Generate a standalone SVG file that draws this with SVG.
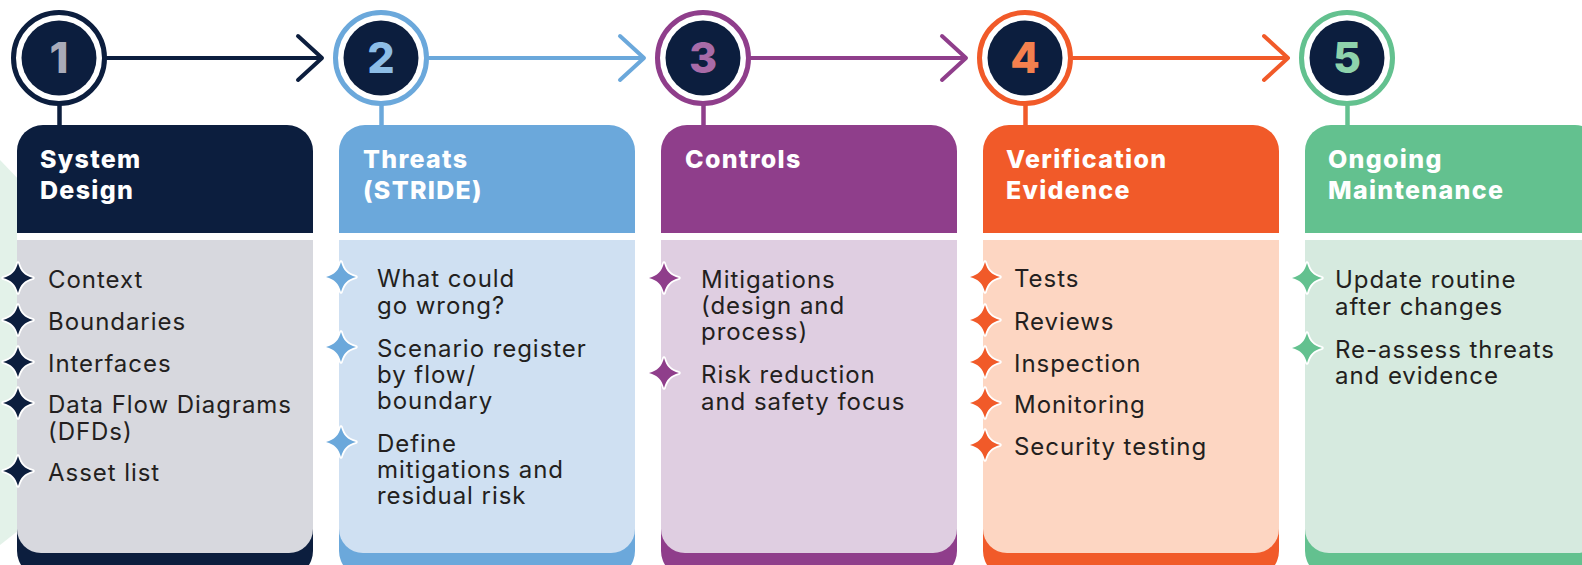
<svg xmlns="http://www.w3.org/2000/svg" width="1582" height="565" viewBox="0 0 1582 565">
  <defs>
    <style>
      .hd { font-family: Inter, "Liberation Sans", sans-serif; font-weight: 800; font-size: 25px; letter-spacing: 1.3px; fill: #ffffff; }
      .it { font-family: Inter, "Liberation Sans", sans-serif; font-weight: 400; font-size: 24px; letter-spacing: 0.95px; fill: #231f20; }
      .num { font-family: Inter, "Liberation Sans", sans-serif; font-weight: 800; font-size: 43px; text-anchor: middle; }
      .gap { fill: #ffffff; }
      .ring { fill: #ffffff; stroke-width: 5; }
      .core { fill: #0c1e3e; }
      .tick { stroke-width: 4.5; }
      .star { stroke: #ffffff; stroke-width: 3.5; paint-order: stroke; stroke-linejoin: round; }
      .arrow { fill: none; stroke-width: 4; stroke-linecap: round; stroke-linejoin: round; }
      .c1 { fill: #0c1e3e; } .s1 { stroke: #0c1e3e; } .b1 { fill: #d7d8de; } .n1 { fill: #a9abb9; }
      .c2 { fill: #6ba8db; } .s2 { stroke: #6ba8db; } .b2 { fill: #cfe0f2; } .n2 { fill: #8dbde6; }
      .c3 { fill: #8f3e8b; } .s3 { stroke: #8f3e8b; } .b3 { fill: #dfcee1; } .n3 { fill: #a86ba8; }
      .c4 { fill: #f15a29; } .s4 { stroke: #f15a29; } .b4 { fill: #fdd6c2; } .n4 { fill: #f4804e; }
      .c5 { fill: #63c18f; } .s5 { stroke: #63c18f; } .b5 { fill: #d6eadf; } .n5 { fill: #8ed3ac; }
    </style>
    <!-- four-point sparkle bullet -->
    <path id="spark" d="M0,-15 C2.6,-6.2 6.2,-2.6 15,0 C6.2,2.6 2.6,6.2 0,15 C-2.6,6.2 -6.2,2.6 -15,0 C-6.2,-2.6 -2.6,-6.2 0,-15 Z"/>
    <!-- card silhouettes, relative to the card's left edge -->
    <path id="back" d="M0,151 A26,26 0 0 1 26,125 H270 A26,26 0 0 1 296,151 V551 A26,26 0 0 1 270,577 H26 A26,26 0 0 1 0,551 Z"/>
    <path id="body" d="M0,240 H296 V529 A24,24 0 0 1 272,553 H24 A24,24 0 0 1 0,529 Z"/>
  </defs>

  <rect width="1582" height="565" fill="#ffffff"/>

  <!-- pale backdrop wedge behind the first card -->
  <polygon points="0,160 210,380 0,545" fill="#e3f2e9"/>

  <!-- step-to-step arrows -->
  <g id="connectors">
    <g class="arrow s1"><line x1="107" y1="58" x2="321" y2="58"/><polyline points="298,36 322,58 298,80"/></g>
    <g class="arrow s2"><line x1="429" y1="58" x2="643" y2="58"/><polyline points="620,36 644,58 620,80"/></g>
    <g class="arrow s3"><line x1="751" y1="58" x2="965" y2="58"/><polyline points="942,36 966,58 942,80"/></g>
    <g class="arrow s4"><line x1="1073" y1="58" x2="1287" y2="58"/><polyline points="1264,36 1288,58 1264,80"/></g>
  </g>

  <!-- Step 1 -->
  <g id="step1">
    <line class="tick s1" x1="59.5" y1="104" x2="59.5" y2="127"/>
    <circle class="ring s1" cx="59" cy="58" r="45.5"/>
    <circle class="core" cx="59" cy="58" r="37.5"/>
    <text class="num n1" x="59" y="73">1</text>
    <g transform="translate(17,0)">
      <use href="#back" class="c1"/>
      <rect class="gap" x="0" y="233" width="296" height="7"/>
      <use href="#body" class="b1"/>
    </g>
    <text class="hd" x="40" y="168">System<tspan x="40" y="199">Design</tspan></text>
    <g class="c1">
      <use href="#spark" class="star" x="18" y="278"/>
      <use href="#spark" class="star" x="18" y="320"/>
      <use href="#spark" class="star" x="18" y="362"/>
      <use href="#spark" class="star" x="18" y="403"/>
      <use href="#spark" class="star" x="18" y="471"/>
    </g>
    <text class="it" x="48" y="288">Context</text>
    <text class="it" x="48" y="330">Boundaries</text>
    <text class="it" x="48" y="372">Interfaces</text>
    <text class="it" x="48" y="413">Data Flow Diagrams<tspan x="48" y="440">(DFDs)</tspan></text>
    <text class="it" x="48" y="481">Asset list</text>
  </g>

  <!-- Step 2 -->
  <g id="step2">
    <line class="tick s2" x1="381.5" y1="104" x2="381.5" y2="127"/>
    <circle class="ring s2" cx="381" cy="58" r="45.5"/>
    <circle class="core" cx="381" cy="58" r="37.5"/>
    <text class="num n2" x="381" y="73">2</text>
    <g transform="translate(339,0)">
      <use href="#back" class="c2"/>
      <rect class="gap" x="0" y="233" width="296" height="7"/>
      <use href="#body" class="b2"/>
    </g>
    <text class="hd" x="363" y="168">Threats<tspan x="363" y="199">(STRIDE)</tspan></text>
    <g class="c2">
      <use href="#spark" class="star" x="341" y="277"/>
      <use href="#spark" class="star" x="341" y="347"/>
      <use href="#spark" class="star" x="341" y="442"/>
    </g>
    <text class="it" x="377" y="287">What could<tspan x="377" y="314">go wrong?</tspan></text>
    <text class="it" x="377" y="357">Scenario register<tspan x="377" y="383">by flow/</tspan><tspan x="377" y="409">boundary</tspan></text>
    <text class="it" x="377" y="452">Define<tspan x="377" y="478">mitigations and</tspan><tspan x="377" y="504">residual risk</tspan></text>
  </g>

  <!-- Step 3 -->
  <g id="step3">
    <line class="tick s3" x1="703.5" y1="104" x2="703.5" y2="127"/>
    <circle class="ring s3" cx="703" cy="58" r="45.5"/>
    <circle class="core" cx="703" cy="58" r="37.5"/>
    <text class="num n3" x="703" y="73">3</text>
    <g transform="translate(661,0)">
      <use href="#back" class="c3"/>
      <rect class="gap" x="0" y="233" width="296" height="7"/>
      <use href="#body" class="b3"/>
    </g>
    <text class="hd" x="685" y="168">Controls</text>
    <g class="c3">
      <use href="#spark" class="star" x="664" y="278"/>
      <use href="#spark" class="star" x="664" y="373"/>
    </g>
    <text class="it" x="701" y="288">Mitigations<tspan x="701" y="314">(design and</tspan><tspan x="701" y="340">process)</tspan></text>
    <text class="it" x="701" y="383">Risk reduction<tspan x="701" y="410">and safety focus</tspan></text>
  </g>

  <!-- Step 4 -->
  <g id="step4">
    <line class="tick s4" x1="1025.5" y1="104" x2="1025.5" y2="127"/>
    <circle class="ring s4" cx="1025" cy="58" r="45.5"/>
    <circle class="core" cx="1025" cy="58" r="37.5"/>
    <text class="num n4" x="1025" y="73">4</text>
    <g transform="translate(983,0)">
      <use href="#back" class="c4"/>
      <rect class="gap" x="0" y="233" width="296" height="7"/>
      <use href="#body" class="b4"/>
    </g>
    <text class="hd" x="1006" y="168">Verification<tspan x="1006" y="199">Evidence</tspan></text>
    <g class="c4">
      <use href="#spark" class="star" x="985" y="277"/>
      <use href="#spark" class="star" x="985" y="320"/>
      <use href="#spark" class="star" x="985" y="362"/>
      <use href="#spark" class="star" x="985" y="403"/>
      <use href="#spark" class="star" x="985" y="445"/>
    </g>
    <text class="it" x="1014" y="287">Tests</text>
    <text class="it" x="1014" y="330">Reviews</text>
    <text class="it" x="1014" y="372">Inspection</text>
    <text class="it" x="1014" y="413">Monitoring</text>
    <text class="it" x="1014" y="455">Security testing</text>
  </g>

  <!-- Step 5 -->
  <g id="step5">
    <line class="tick s5" x1="1347.5" y1="104" x2="1347.5" y2="127"/>
    <circle class="ring s5" cx="1347" cy="58" r="45.5"/>
    <circle class="core" cx="1347" cy="58" r="37.5"/>
    <text class="num n5" x="1347" y="73">5</text>
    <g transform="translate(1305,0)">
      <use href="#back" class="c5"/>
      <rect class="gap" x="0" y="233" width="296" height="7"/>
      <use href="#body" class="b5"/>
    </g>
    <text class="hd" x="1328" y="168">Ongoing<tspan x="1328" y="199">Maintenance</tspan></text>
    <g class="c5">
      <use href="#spark" class="star" x="1307" y="278"/>
      <use href="#spark" class="star" x="1307" y="348"/>
    </g>
    <text class="it" x="1335" y="288">Update routine<tspan x="1335" y="315">after changes</tspan></text>
    <text class="it" x="1335" y="358">Re-assess threats<tspan x="1335" y="384">and evidence</tspan></text>
  </g>
</svg>
